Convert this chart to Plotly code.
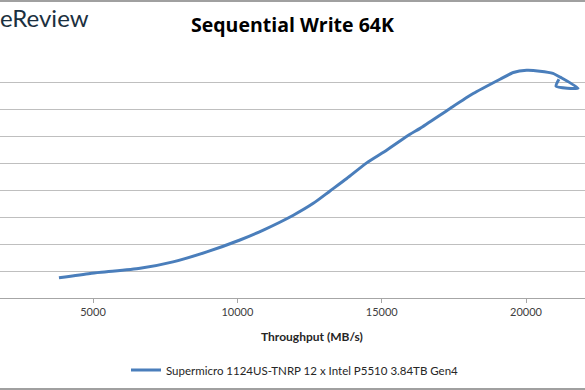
import plotly.graph_objects as go

# Data (throughput MB/s vs latency, y-axis labels cropped in reference)
series_name = "Supermicro 1124US-TNRP 12 x Intel P5510 3.84TB Gen4"
throughput = [3820, 4900, 5470, 6630, 7770, 8940, 10090, 10900, 11940, 12630, 13210,
              13790, 14480, 15170, 15980, 16330, 17370, 18170, 19100, 19560, 20020,
              20480, 20930, 21180, 21800, 21040, 21140]
latency = [0.75, 0.91, 0.97, 1.10, 1.34, 1.71, 2.15, 2.52, 3.07, 3.51, 3.97,
           4.43, 5.01, 5.48, 6.07, 6.29, 7.03, 7.58, 8.11, 8.36, 8.44,
           8.41, 8.33, 8.19, 7.78, 7.85, 8.11]
x_ticks = [5000, 10000, 15000, 20000]

W, H = 585, 390
top, bottom = 55, 298
ph = bottom - top

def py(p):
    return (bottom - p) / ph

fig = go.Figure()
fig.add_trace(go.Scatter(
    x=throughput, y=latency, mode="lines", name=series_name,
    line=dict(color="#4A7EBB", width=3, shape="spline", smoothing=0.6),
))

fig.update_layout(
    width=W, height=H,
    margin=dict(l=0, r=0, t=top, b=H - bottom),
    paper_bgcolor="white", plot_bgcolor="white",
    font=dict(family="Lato, 'Open Sans', sans-serif", color="#404040", size=11),
    showlegend=True,
    legend=dict(orientation="h", x=295 / W, xanchor="center", y=py(370), yanchor="middle",
                font=dict(size=11.5, color="#262626"), bgcolor="rgba(0,0,0,0)"),
    xaxis=dict(range=[1778, 1778 + 34.64 * W], tickvals=x_ticks, tickformat="d",
               ticks="outside", ticklen=4, tickcolor="#A6A6A6", showgrid=False,
               showline=True, linecolor="#A6A6A6", linewidth=1, zeroline=False,
               tickfont=dict(size=11, color="#404040")),
    yaxis=dict(range=[0, 9.01], dtick=1, showticklabels=False, showgrid=True,
               gridcolor="#BFBFBF", gridwidth=1, zeroline=False, showline=False),
    annotations=[
        dict(text="<b>Sequential Write 64K</b>", x=292 / W, y=py(24), xref="paper", yref="paper",
             showarrow=False, xanchor="center", yanchor="middle",
             font=dict(size=19.5, color="#000000", family="'Open Sans', sans-serif")),
        dict(text="<b>Throughput (MB/s)</b>", x=312 / W, y=py(336), xref="paper", yref="paper",
             showarrow=False, xanchor="center", yanchor="middle",
             font=dict(size=12, color="#262626")),
        dict(text="eReview", x=-0.004, y=py(18), xref="paper", yref="paper",
             showarrow=False, xanchor="left", yanchor="middle",
             font=dict(size=24, color="#1B3040", family="Lato, sans-serif")),
    ],
    shapes=[
        dict(type="line", xref="paper", yref="paper", x0=0, x1=1, y0=py(1), y1=py(1),
             line=dict(color="#A0A0A0", width=2)),
        dict(type="line", xref="paper", yref="paper", x0=0, x1=1, y0=py(389), y1=py(389),
             line=dict(color="#A0A0A0", width=2)),
    ],
)

fig.write_html("out.html", config={"displayModeBar": False},
               post_script="document.body.style.margin='0';")
